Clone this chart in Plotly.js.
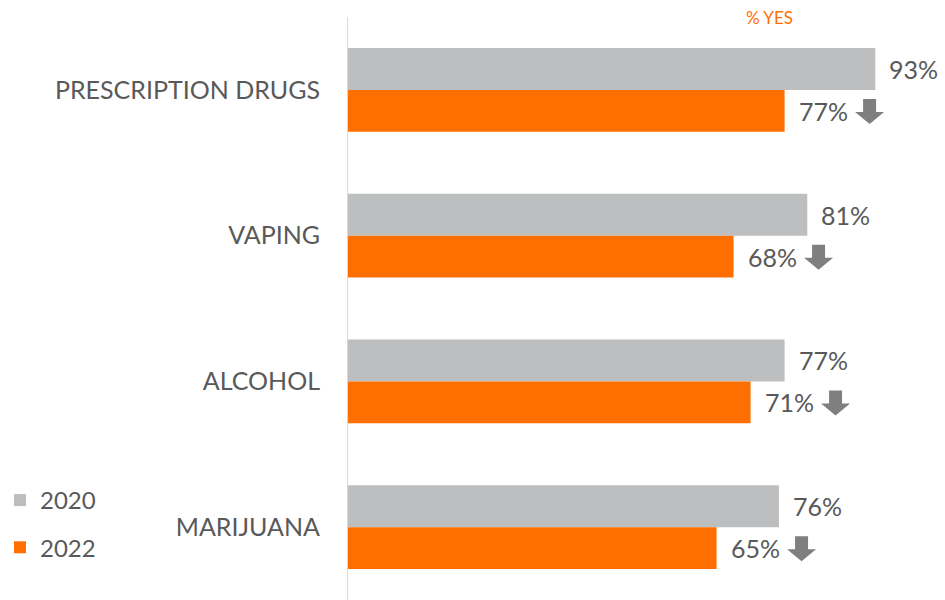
<!DOCTYPE html>
<html><head><meta charset="utf-8">
<script src="https://cdn.plot.ly/plotly-3.0.1.min.js"></script>
<style>body{margin:0;background:#fff}#chart{width:945px;height:600px}</style>
</head><body><div id="chart"></div>
<script>
const categories = ["PRESCRIPTION DRUGS", "VAPING", "ALCOHOL", "MARIJUANA"];
const values2020 = [93, 81, 77, 76];
const values2022 = [77, 68, 71, 65];
const seriesNames = ["2020", "2022"];
const axisNote = "% YES";

const grayBar = "#BCBEC0", orangeBar = "#FF6E00", textCol = "#595959", arrowCol = "#7F7F7F";
const fontFam = "Lato, 'Open Sans', sans-serif";

const traces = [
  {type:"bar", orientation:"h", name:seriesNames[0], y:categories, x:values2020, legendgroup:"a",
   marker:{color:grayBar}, hoverinfo:"none"},
  {type:"bar", orientation:"h", name:seriesNames[1], y:categories, x:values2022, legendgroup:"b",
   marker:{color:orangeBar}, hoverinfo:"none"}
];

const annotations = [];
const shapes = [];
// down-arrow glyph outline (pixels relative to anchor point, style only)
const arrowPath = "M78.5,-9 L91.5,-9 L91.5,-22 L99.5,-22 L85,-34 L70.5,-22 L78.5,-22 Z";
categories.forEach((c, i) => {
  annotations.push({x:values2020[i], y:c, xref:"x", yref:"y", yshift:21, xanchor:"left", xshift:12,
    text:values2020[i]+"%", showarrow:false, font:{size:25, color:textCol, family:fontFam}});
  annotations.push({x:values2022[i], y:c, xref:"x", yref:"y", yshift:-21, xanchor:"left", xshift:12,
    text:values2022[i]+"%", showarrow:false, font:{size:25, color:textCol, family:fontFam}});
  shapes.push({type:"path", xref:"x", yref:"y", xsizemode:"pixel", ysizemode:"pixel",
    xanchor:values2022[i], yanchor:i, path:arrowPath, fillcolor:arrowCol, line:{width:0}});
});
annotations.push({x:(769-347)/(945-347-30), xref:"paper", y:1, yref:"paper", xanchor:"center", yanchor:"bottom",
  yshift:-13, text:axisNote, showarrow:false, font:{size:17, color:orangeBar, family:fontFam}});

const layout = {
  width:945, height:600,
  margin:{l:347, r:30, t:17, b:0},
  paper_bgcolor:"#fff", plot_bgcolor:"#fff",
  barmode:"group", bargap:0.425, bargroupgap:0,
  xaxis:{range:[0,100], showgrid:false, zeroline:false, showticklabels:false, showline:false, fixedrange:true},
  yaxis:{autorange:"reversed", showgrid:false, zeroline:false, showline:true, linecolor:"#D9D9D9", linewidth:1,
    ticks:"outside", ticklen:22, tickcolor:"rgba(0,0,0,0)", tickfont:{size:25, color:textCol, family:fontFam}},
  showlegend:true,
  legend:{x:-0.615, xanchor:"left", y:(600-17-461)/583, yanchor:"top", font:{size:24, color:textCol, family:fontFam},
    traceorder:"grouped", tracegroupgap:13},
  annotations:annotations,
  shapes:shapes
};

Plotly.newPlot("chart", traces, layout, {staticPlot:true});
</script></body></html>
